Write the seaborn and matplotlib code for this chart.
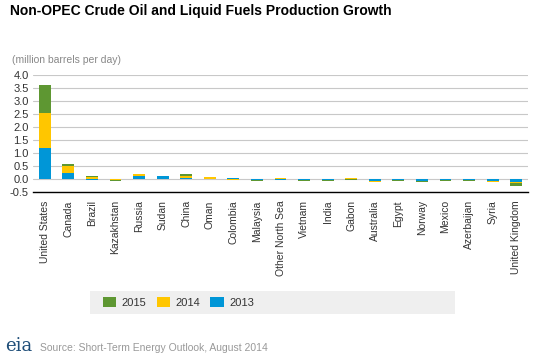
import matplotlib
matplotlib.use("Agg")
import matplotlib.pyplot as plt
import matplotlib.patches as mpatches
import numpy as np
import pandas as pd
import seaborn as sns

countries = ["United States", "Canada", "Brazil", "Kazakhstan", "Russia", "Sudan", "China",
             "Oman", "Colombia", "Malaysia", "Other North Sea", "Vietnam", "India", "Gabon",
             "Australia", "Egypt", "Norway", "Mexico", "Azerbaijan", "Syria", "United Kingdom"]
v2013 = [1.20, 0.22, -0.02, 0.01, 0.12, 0.12, 0.04, 0.01, 0.02, -0.02, -0.02, -0.02, -0.02, -0.01,
         -0.08, -0.02, -0.07, -0.02, -0.03, -0.08, -0.10]
v2014 = [1.35, 0.28, 0.07, -0.03, 0.06, 0.01, 0.08, 0.05, -0.02, -0.02, 0.02, -0.02, -0.02, 0.02,
         -0.02, -0.03, -0.02, -0.02, -0.02, -0.02, -0.06]
v2015 = [1.05, 0.08, 0.05, -0.04, -0.01, 0.00, 0.08, 0.02, -0.02, -0.02, -0.02, -0.02, -0.02, -0.02,
         -0.01, -0.02, -0.02, -0.03, -0.04, -0.01, -0.12]
years = ["2015", "2014", "2013"]
colors = {"2013": "#0096D7", "2014": "#FFC600", "2015": "#5E9732"}

sns.set_style("white")
plt.rcParams["font.family"] = ["Liberation Sans", "DejaVu Sans"]

fig = plt.figure(figsize=(5.38, 3.59), dpi=100)
ax = fig.add_axes([33/538, 1-192/359, (528-33)/538, (192-75)/359])

series = {"2013": np.array(v2013), "2014": np.array(v2014), "2015": np.array(v2015)}
pos_bottom = np.zeros(len(countries))
neg_bottom = np.zeros(len(countries))
for yr in ["2013", "2014", "2015"]:
    vals = series[yr]
    bottom = np.where(vals >= 0, pos_bottom, neg_bottom)
    df = pd.DataFrame({"country": countries, "value": vals})
    sns.barplot(data=df, x="country", y="value", color=colors[yr], bottom=bottom,
                width=0.5, ax=ax, saturation=1, linewidth=0, zorder=3)
    pos_bottom = pos_bottom + np.where(vals >= 0, vals, 0)
    neg_bottom = neg_bottom + np.where(vals < 0, vals, 0)

ax.set_ylim(-0.5, 4.0)
ax.set_xlim(-0.5, len(countries) - 0.5)
ax.set_yticks(np.arange(-0.5, 4.01, 0.5))
ax.set_yticklabels([f"{t:.1f}" for t in np.arange(-0.5, 4.01, 0.5)], fontsize=8, color="#333333")
ax.yaxis.grid(True, color="#C8C8C8", linewidth=0.8, zorder=0)
ax.set_xlabel("")
ax.set_ylabel("")
ax.tick_params(axis="y", length=0, pad=3)
ax.tick_params(axis="x", length=4, width=0.8, color="black", direction="out", pad=2)
ax.set_xticks(range(len(countries)))
ax.set_xticklabels(countries, rotation=90, fontsize=7.5, color="#333333")
for s in ["top", "right", "left"]:
    ax.spines[s].set_visible(False)
ax.spines["bottom"].set_color("black")
ax.spines["bottom"].set_linewidth(1)

fig.text(10/538, 1-11/359, "Non-OPEC Crude Oil and Liquid Fuels Production Growth",
         fontsize=10, fontweight="bold", va="center", ha="left", color="black")
fig.text(12/538, 1-60/359, "(million barrels per day)", fontsize=7.5, color="#888888",
         va="center", ha="left")

# legend background
rect = mpatches.Rectangle((90/538, 1-314/359), (455-90)/538, 23/359, transform=fig.transFigure,
                          facecolor="#EFEFEF", edgecolor="none", zorder=0)
fig.patches.append(rect)
handles = [mpatches.Patch(facecolor=colors[y], edgecolor="none", label=y) for y in years]
fig.legend(handles=handles, loc="center left", bbox_to_anchor=(93/538, 1-302.5/359), ncol=3,
           frameon=False, fontsize=8, handlelength=1.2, handleheight=1.0, handletextpad=0.5,
           columnspacing=0.9, labelcolor="#333333")

fig.text(5/538, 1-346/359, "eia", fontsize=13, family="DejaVu Serif", color="#1F4E79",
         va="center", ha="left")
fig.text(40/538, 1-348/359, "Source: Short-Term Energy Outlook, August 2014", fontsize=7.5,
         color="#999999", va="center", ha="left")

fig.savefig("out.png", dpi=100)
